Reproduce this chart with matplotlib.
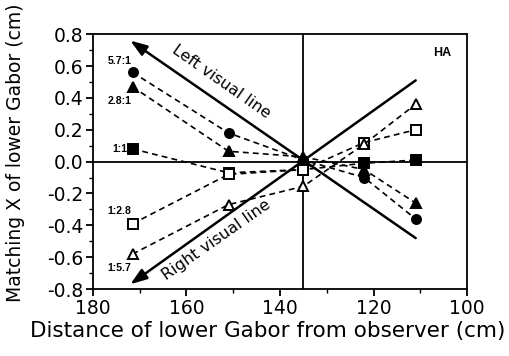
from matplotlib import pyplot as plt
import numpy as np

plt.rcParams['font.family'] = ['DejaVu Sans']

# distances of lower Gabor (cm)
dist = [171.5, 151, 135, 122, 111]

# matching X for each luminance ratio
r_57_1 = [0.56, 0.18, 0.01, -0.10, -0.36]
r_28_1 = [0.47, 0.065, 0.03, -0.05, -0.26]
r_1_1 = [0.08, -0.07, -0.05, -0.01, 0.01]
r_1_28 = [-0.39, -0.08, -0.05, 0.12, 0.20]
r_1_57 = [-0.58, -0.27, -0.155, 0.11, 0.36]

ratio_labels = ["5.7:1", "2.8:1", "1:1", "1:2.8", "1:5.7"]
label_y = [0.63, 0.38, 0.08, -0.31, -0.665]

# visual lines (start, arrow end)
left_line_x = [111, 172]
left_line_y = [-0.48, 0.76]
right_line_x = [111, 172]
right_line_y = [0.51, -0.77]

center_x = 135

yticks = [-0.8, -0.6, -0.4, -0.2, 0.0, 0.2, 0.4, 0.6, 0.8]
ytick_labels = ["-0.8", "-0.6", "-0.4", "-0.2", "0.0", "0.2", "0.4", "0.6", "0.8"]
xticks = [180, 160, 140, 120, 100]

fig = plt.figure(figsize=(5.1, 3.56), dpi=100)
ax = fig.add_axes([0.182, 0.188, 0.734, 0.716])

ax.axhline(0, color='black', lw=1.3, zorder=1)
ax.axvline(center_x, color='black', lw=1.3, zorder=1)

for (x0, x1), (y0, y1) in [(left_line_x, left_line_y), (right_line_x, right_line_y)]:
    ax.annotate("", xy=(x1, y1), xytext=(x0, y0),
                arrowprops=dict(arrowstyle='-|>,head_length=1.0,head_width=0.35',
                                color='black', lw=1.8, shrinkA=0, shrinkB=0))

series = [
    (r_57_1, 'o', 'black'),
    (r_28_1, '^', 'black'),
    (r_1_1, 's', 'black'),
    (r_1_28, 's', 'white'),
    (r_1_57, '^', 'white'),
]
for vals, mk, fc in series:
    ax.plot(dist, vals, linestyle=(0, (3.5, 2.5)), color='black', lw=1.2,
            marker=mk, markersize=6.5, markerfacecolor=fc,
            markeredgecolor='black', markeredgewidth=1.4, zorder=3)

for lab, ly in zip(ratio_labels, label_y):
    ax.text(174.3, ly, lab, fontsize=7.5, ha='center', va='center',
            family='Liberation Sans', weight='bold')

ax.text(105.4, 0.68, "HA", fontsize=9, ha='center', va='center',
        family='Liberation Sans', weight='bold')
ax.text(152.5, 0.50, "Left visual line", fontsize=11.5, rotation=-35,
        rotation_mode='anchor', ha='center', va='center')
ax.text(153.5, -0.49, "Right visual line", fontsize=11.5, rotation=35,
        rotation_mode='anchor', ha='center', va='center')

ax.set_xlim(180, 100)
ax.set_ylim(-0.8, 0.8)
ax.set_xticks(xticks)
ax.set_xticks([170, 150, 130, 110], minor=True)
ax.set_yticks(yticks)
ax.set_yticklabels(ytick_labels)
ax.set_yticks(np.arange(-0.7, 0.71, 0.2), minor=True)
ax.tick_params(axis='both', which='major', labelsize=13.5, length=5, width=1.3, pad=2)
ax.tick_params(axis='both', which='minor', length=3, width=1)
for s in ax.spines.values():
    s.set_linewidth(1.3)

ax.set_xlabel("Distance of lower Gabor from observer (cm)", fontsize=15.5)
ax.set_ylabel("Matching X of lower Gabor (cm)", fontsize=13.5)
ax.xaxis.set_label_coords(0.467, -0.125)
ax.yaxis.set_label_coords(-0.18, 0.535)

fig.savefig("out.png", dpi=100)
